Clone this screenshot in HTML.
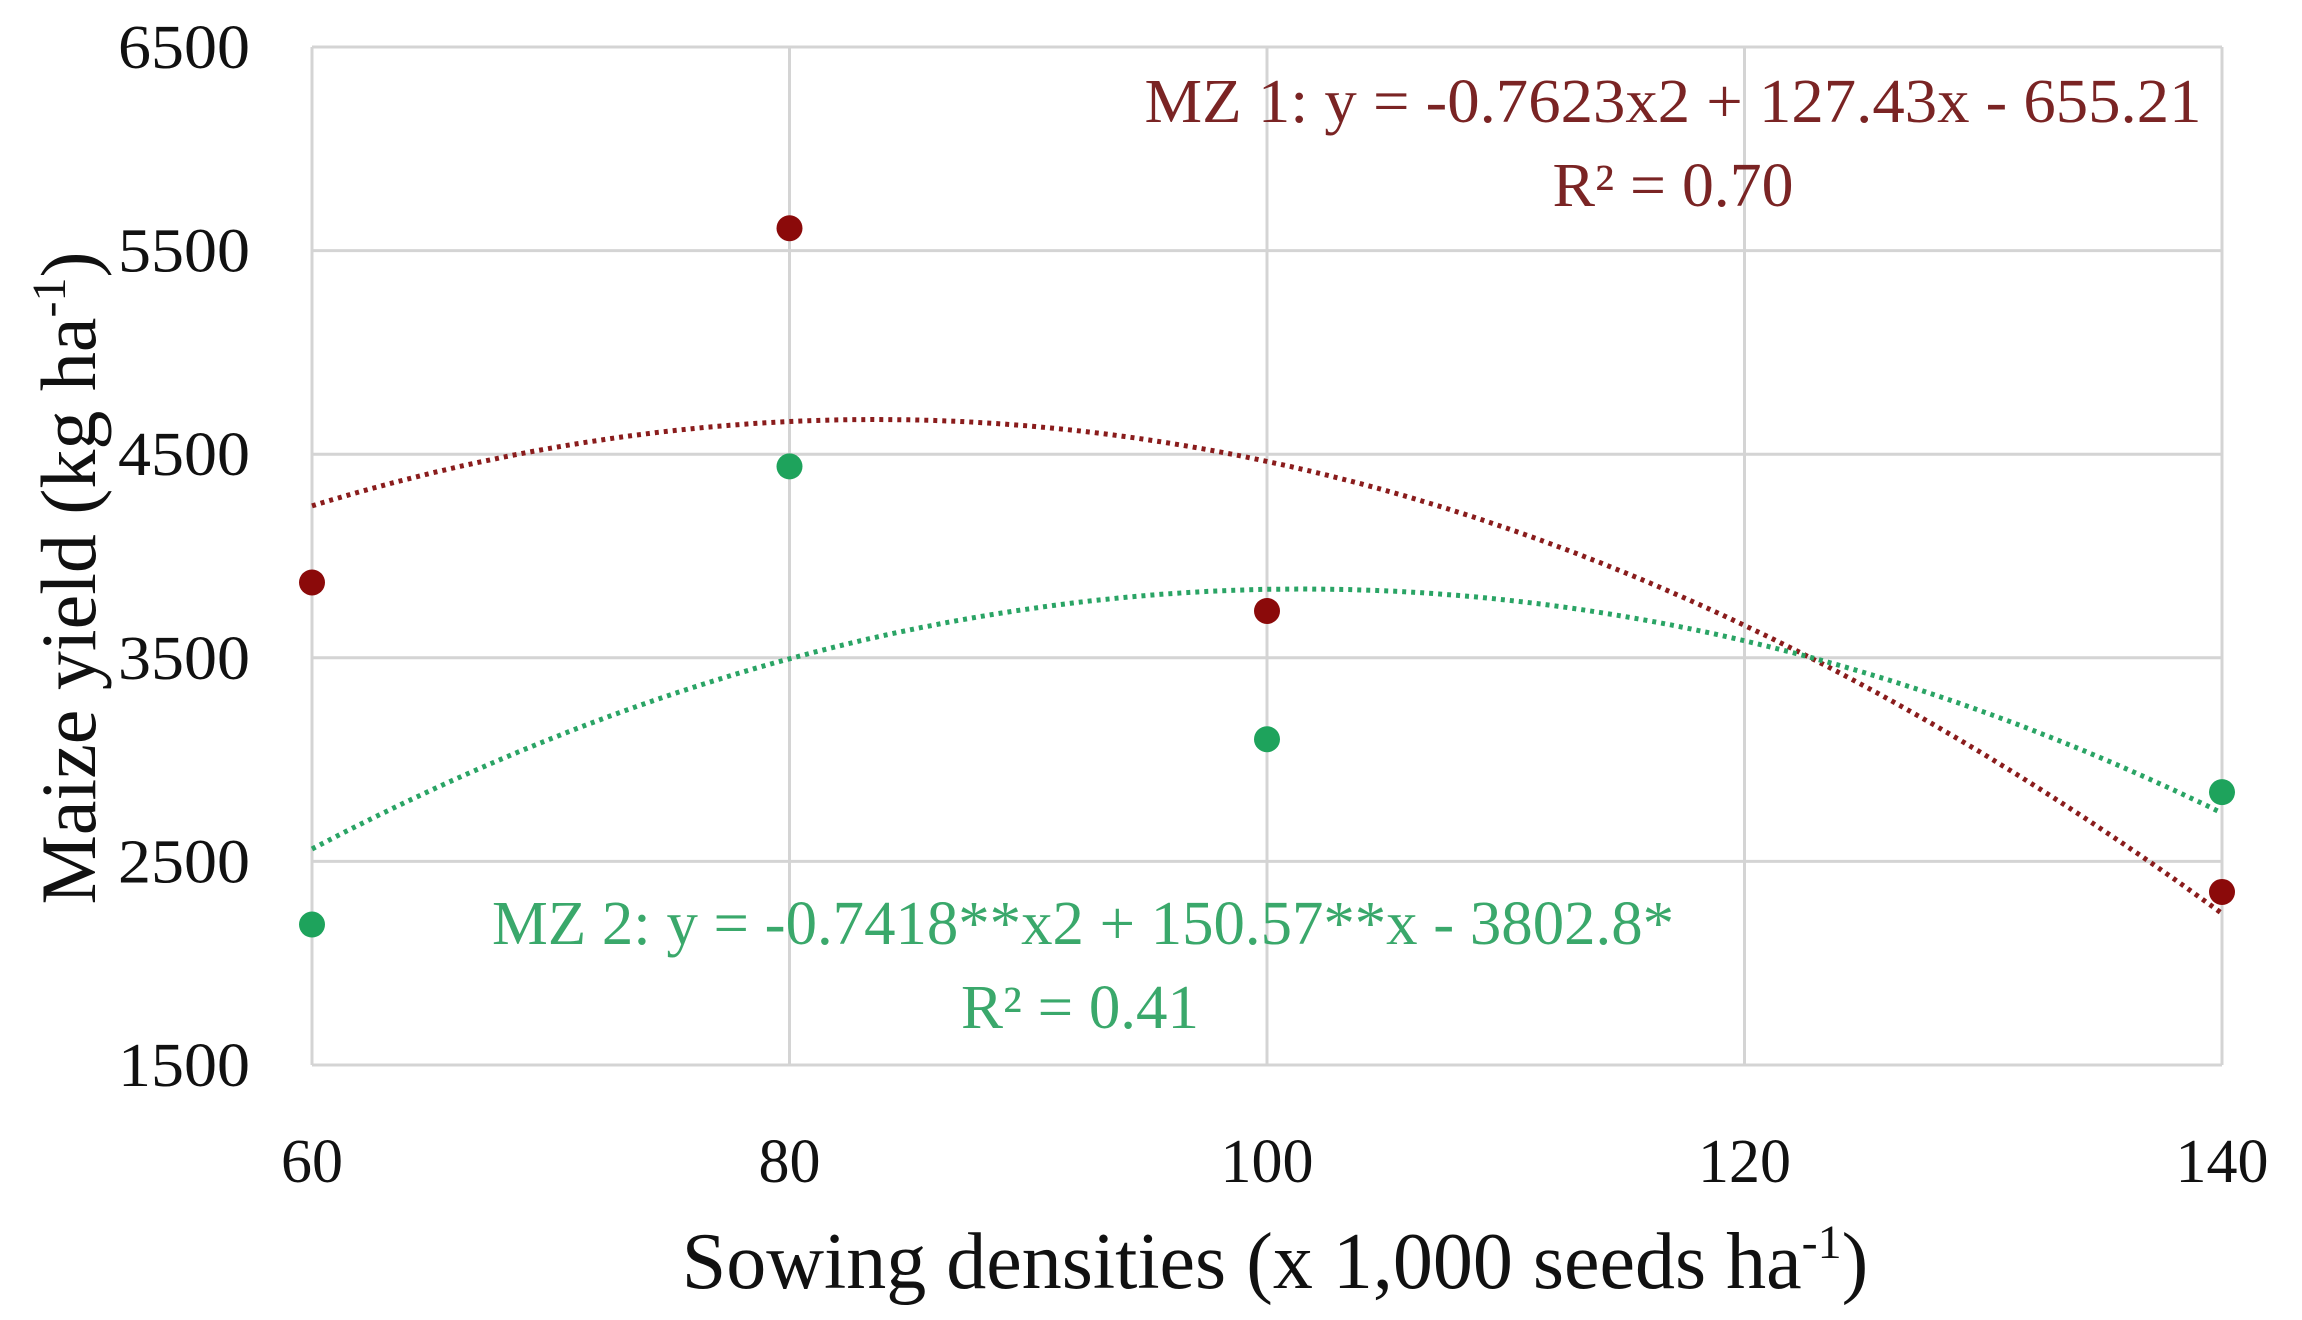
<!DOCTYPE html>
<html><head><meta charset="utf-8"><style>
html,body{margin:0;padding:0;background:#fff;}
svg{display:block;font-family:"Liberation Serif",serif;}
</style></head><body>
<svg id="chart" width="2302" height="1320" viewBox="0 0 2302 1320"></svg>
<script>
const xTicks=[60,80,100,120,140];
const yTicks=[1500,2500,3500,4500,5500,6500];
const densities=[60,80,100,140];
const mz1Values=[3870,5610,3730,2350];
const mz2Values=[2190,4440,3100,2840];
const mz1Coef=[-0.7623,127.43,-655.21];
const mz2Coef=[-0.7418,150.57,-3802.8];
const L=312,R=2222,T=47,B=1065;
const sx=v=>L+(v-60)/(140-60)*(R-L);
const sy=v=>B-(v-1500)/(6500-1500)*(B-T);
const svg=document.getElementById('chart');
const NS='http://www.w3.org/2000/svg';
function mk(tag,attrs,parent){const e=document.createElementNS(NS,tag);for(const k in attrs)e.setAttribute(k,attrs[k]);(parent||svg).appendChild(e);return e;}
const grid=mk('g',{});


yTicks.forEach(v=>{const l=mk('line',{x1:L,x2:R,y1:sy(v),y2:sy(v),stroke:'#d4d4d4','stroke-width':3},grid);


const t=mk('text',{x:250,y:sy(v)+21,'text-anchor':'end','font-size':62,fill:'#111',textLength:132,lengthAdjust:'spacingAndGlyphs'});t.textContent=v;

});
xTicks.forEach(v=>{const l=mk('line',{x1:sx(v),x2:sx(v),y1:T,y2:B,stroke:'#d4d4d4','stroke-width':3},grid);


const t=mk('text',{x:sx(v),y:1182,'text-anchor':'middle','font-size':62,fill:'#111'});t.textContent=v;

});
function curve(c,color,name){let d='';for(let x=60;x<=140;x+=0.5){const y=c[0]*x*x+c[1]*x+c[2];d+=(d?'L':'M')+sx(x).toFixed(1)+','+sy(y).toFixed(1);}
const p=mk('path',{d:d,fill:'none',stroke:color,'stroke-width':5,'stroke-dasharray':'4 5'});

}
curve(mz1Coef,'#8a1c1c','mz1-trendline');
curve(mz2Coef,'#2aa465','mz2-trendline');
function pts(vals,color,name){densities.forEach((d,i)=>{const c=mk('circle',{cx:sx(d),cy:sy(vals[i]),r:13,fill:color});

});}
pts(mz1Values,'#8b0a0a','mz1-point');
pts(mz2Values,'#1ea35c','mz2-point');
function txt(s,x,y,size,color,name,len){const t=mk('text',{x:x,y:y,'font-size':size,fill:color,'text-anchor':'middle'});t.textContent=s;
if(len){t.setAttribute('textLength',len);t.setAttribute('lengthAdjust','spacingAndGlyphs');}

return t;}
txt('MZ 1: y = -0.7623x2 + 127.43x - 655.21',1673,122,62,'#7a2424','mz1-equation',1057);
txt('R² = 0.70',1673,206,62,'#7a2424','mz1-r-squared',241);
txt('MZ 2: y = -0.7418**x2 + 150.57**x - 3802.8*',1083,944,62,'#3aa86b','mz2-equation',1182);
txt('R² = 0.41',1080,1028,62,'#3aa86b','mz2-r-squared',238);
const xt=mk('text',{x:1275,y:1288,'font-size':80,fill:'#111','text-anchor':'middle'});


xt.textContent='Sowing densities (x 1,000 seeds ha';
const sup=mk('tspan',{dy:-30,'font-size':48},xt);sup.textContent='-1';
const cl=mk('tspan',{dy:30},xt);cl.textContent=')';
const yt=mk('text',{x:0,y:0,'font-size':78,fill:'#111','text-anchor':'middle',transform:'translate(95,578) rotate(-90)'});


yt.textContent='Maize yield (kg ha';
const s2=mk('tspan',{dy:-30,'font-size':48},yt);s2.textContent='-1';
const c2=mk('tspan',{dy:30},yt);c2.textContent=')';
</script>
</body></html>
